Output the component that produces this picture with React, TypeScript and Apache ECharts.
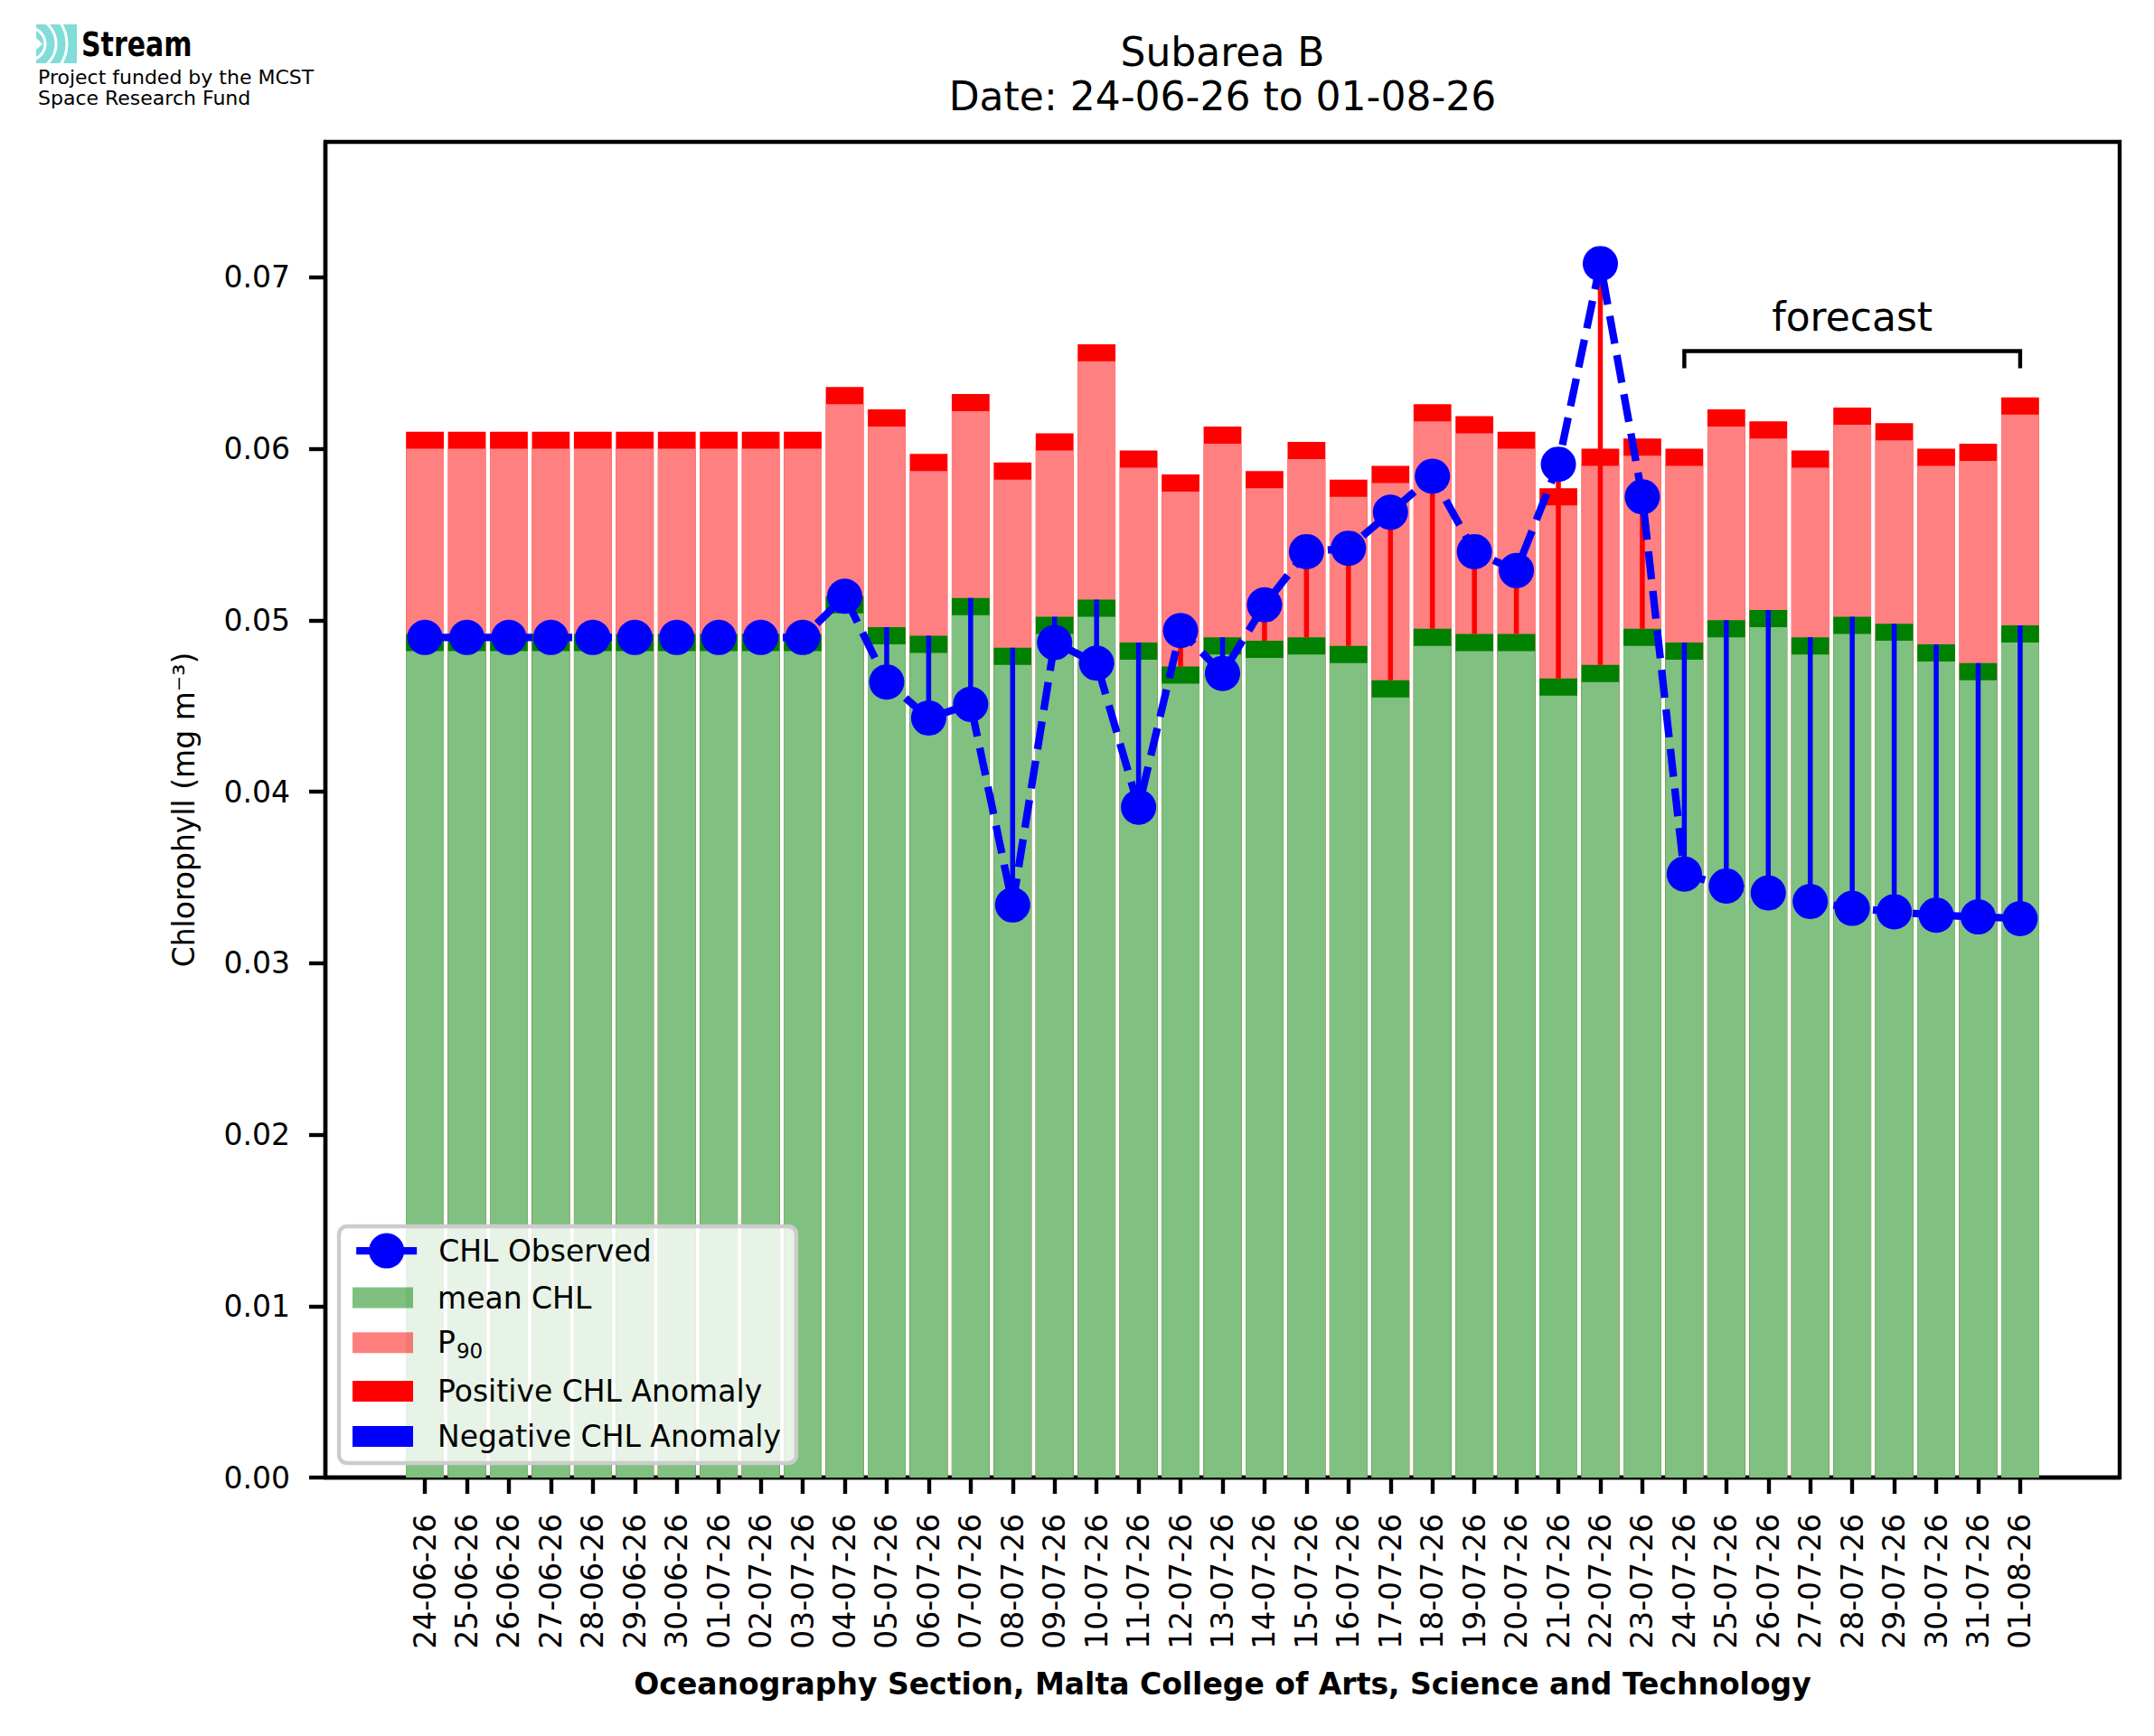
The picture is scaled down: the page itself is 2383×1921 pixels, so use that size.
import React, { useEffect, useRef } from 'react';
import * as echarts from 'echarts';

// ---------- data ----------
const dates = [
  '24-06-26', '25-06-26', '26-06-26', '27-06-26', '28-06-26', '29-06-26', '30-06-26',
  '01-07-26', '02-07-26', '03-07-26', '04-07-26', '05-07-26', '06-07-26', '07-07-26',
  '08-07-26', '09-07-26', '10-07-26', '11-07-26', '12-07-26', '13-07-26', '14-07-26',
  '15-07-26', '16-07-26', '17-07-26', '18-07-26', '19-07-26', '20-07-26', '21-07-26',
  '22-07-26', '23-07-26', '24-07-26', '25-07-26', '26-07-26', '27-07-26', '28-07-26',
  '29-07-26', '30-07-26', '31-07-26', '01-08-26',
];

const meanCHL = [
  0.0492, 0.0492, 0.0492, 0.0492, 0.0492, 0.0492, 0.0492, 0.0492, 0.0492, 0.0492,
  0.0514, 0.0496, 0.0491, 0.0513, 0.0484, 0.0502, 0.0512, 0.0487, 0.0473, 0.0490,
  0.0488, 0.0490, 0.0485, 0.0465, 0.0495, 0.0492, 0.0492, 0.0466, 0.0474, 0.0495,
  0.0487, 0.0500, 0.0506, 0.0490, 0.0502, 0.0498, 0.0486, 0.0475, 0.0497,
];

const p90CHL = [
  0.0610, 0.0610, 0.0610, 0.0610, 0.0610, 0.0610, 0.0610, 0.0610, 0.0610, 0.0610,
  0.0636, 0.0623, 0.0597, 0.0632, 0.0592, 0.0609, 0.0661, 0.0599, 0.0585, 0.0613,
  0.0587, 0.0604, 0.0582, 0.0590, 0.0626, 0.0619, 0.0610, 0.0577, 0.0600, 0.0606,
  0.0600, 0.0623, 0.0616, 0.0599, 0.0624, 0.0615, 0.0600, 0.0603, 0.0630,
];

const observedCHL = [
  0.0490, 0.0490, 0.0490, 0.0490, 0.0490, 0.0490, 0.0490, 0.0490, 0.0490, 0.0490,
  0.0514, 0.0464, 0.0443, 0.0451, 0.0334, 0.0487, 0.0475, 0.0391, 0.0494, 0.0469,
  0.0509, 0.0540, 0.0542, 0.0563, 0.0584, 0.0540, 0.0529, 0.0591, 0.0708, 0.0572,
  0.0352, 0.0345, 0.0341, 0.0336, 0.0332, 0.0330, 0.0328, 0.0327, 0.0326,
];

const yTicks = [0, 0.01, 0.02, 0.03, 0.04, 0.05, 0.06, 0.07];
const forecastStart = 30;
const forecastEnd = 38;
const forecastLevel = 0.0657;
const forecastTickDrop = 0.001;
const forecastTextLevel = 0.0677;
const BAND = 0.001; // thickness of the mean / P90 marker bands

// ---------- styles ----------
const FONT = 'DejaVu Sans';
const GREEN_LIGHT = '#80c080';
const GREEN_DARK = '#008000';
const RED_LIGHT = '#ff8080';
const RED = '#ff0000';
const BLUE = '#0000ff';
const TEAL = '#80ddd8';

const GRID = { left: 360, top: 157, width: 1985, height: 1478 };

function buildOption(): any {
  const idx = dates.map((_, i) => i);
  const pos: any[] = [];
  const neg: any[] = [];
  idx.forEach((i) => {
    if (observedCHL[i] > meanCHL[i]) pos.push([i, meanCHL[i], observedCHL[i]]);
    else if (observedCHL[i] < meanCHL[i]) neg.push([i, meanCHL[i], observedCHL[i]]);
  });

  const anomalyRender = (color: string) => (params: any, api: any) => {
    const x = api.value(0);
    const a = api.coord([x, api.value(1)]);
    const b = api.coord([x, api.value(2)]);
    return {
      type: 'line',
      shape: { x1: a[0], y1: a[1], x2: b[0], y2: b[1] },
      style: { stroke: color, lineWidth: 5.5 },
    };
  };

  const barCommon = { type: 'bar', barWidth: 41.8, barGap: '-100%', z: 2, silent: true };
  const legendText = { fontFamily: FONT, fontSize: 33, color: '#000', padding: [0, 0, 0, 22] };

  return {
    animation: false,
    textStyle: { fontFamily: FONT, color: '#000' },
    title: {
      text: 'Subarea B\nDate: 24-06-26 to 01-08-26',
      left: GRID.left + GRID.width / 2,
      textAlign: 'center',
      top: 33,
      padding: 0,
      textStyle: { fontFamily: FONT, fontSize: 44, fontWeight: 'normal', lineHeight: 49, color: '#000' },
    },
    grid: { ...GRID, show: true, borderColor: '#000', borderWidth: 4.4, backgroundColor: 'transparent' },
    xAxis: {
      type: 'value',
      min: -2.37,
      max: 40.37,
      name: 'Oceanography Section, Malta College of Arts, Science and Technology',
      nameLocation: 'middle',
      nameGap: 212,
      nameTextStyle: { fontFamily: FONT, fontSize: 33, fontWeight: 'bold', color: '#000' },
      axisLine: { show: true, onZero: false, lineStyle: { color: '#000', width: 4.4 } },
      splitLine: { show: false },
      axisTick: { show: true, length: 18, lineStyle: { color: '#000', width: 4.4 }, customValues: idx },
      axisLabel: {
        customValues: idx,
        rotate: 90,
        margin: 40,
        fontSize: 33,
        fontFamily: FONT,
        color: '#000',
        formatter: (v: number) => dates[Math.round(v)] ?? '',
      },
    },
    yAxis: {
      type: 'value',
      min: 0,
      max: 0.0779,
      name: 'Chlorophyll (mg m⁻³)',
      nameLocation: 'middle',
      nameGap: 140,
      nameTextStyle: { fontFamily: FONT, fontSize: 33, color: '#000' },
      axisLine: { show: true, onZero: false, lineStyle: { color: '#000', width: 4.4 } },
      splitLine: { show: false },
      axisTick: { show: true, length: 18, lineStyle: { color: '#000', width: 4.4 }, customValues: yTicks },
      axisLabel: {
        customValues: yTicks,
        margin: 39,
        fontSize: 33,
        fontFamily: FONT,
        color: '#000',
        formatter: (v: number) => v.toFixed(2),
      },
    },
    legend: [
      {
        data: [{ name: 'CHL Observed', lineStyle: { width: 8.3, type: 'solid', color: BLUE } }],
        orient: 'vertical',
        left: 390,
        top: 1389 - 24.4,
        padding: 0,
        itemWidth: 67,
        itemHeight: 48.75,
        selectedMode: false,
        z: 5,
        textStyle: { ...legendText, padding: [0, 0, 0, 19] },
      },
      {
        data: [
          { name: 'mean CHL', itemStyle: { color: 'rgba(0,128,0,0.5)' } },
          { name: 'P₉₀', itemStyle: { color: 'rgba(255,0,0,0.5)' } },
          { name: 'Positive CHL Anomaly' },
          { name: 'Negative CHL Anomaly' },
        ],
        orient: 'vertical',
        left: 390,
        top: 1436 - 16.5,
        padding: 0,
        itemWidth: 67,
        itemHeight: 23,
        itemGap: 16.8,
        icon: 'rect',
        selectedMode: false,
        z: 5,
        formatter: (name: string) => (name === 'P₉₀' ? '{p|P}{s|90}' : name),
        textStyle: {
          ...legendText,
          rich: {
            p: { fontFamily: FONT, fontSize: 33, lineHeight: 33, verticalAlign: 'top', color: '#000' },
            s: { fontFamily: FONT, fontSize: 23, lineHeight: 23, verticalAlign: 'top', padding: [14, 0, 0, 1], color: '#000' },
          },
        },
      },
    ],
    graphic: [
      {
        type: 'rect',
        z: 3,
        shape: { x: 375, y: 1357, width: 506, height: 262, r: 9 },
        style: { fill: 'rgba(255,255,255,0.8)', stroke: '#cccccc', lineWidth: 4.4 },
        silent: true,
      },
      // logo
      {
        type: 'group',
        z: 5,
        children: [
          { type: 'rect', shape: { x: 40, y: 27, width: 45, height: 43 }, style: { fill: TEAL } },
          { type: 'arc', shape: { cx: 32, cy: 48.5, r: 18, startAngle: -1.25, endAngle: 1.25 }, style: { stroke: '#fff', lineWidth: 3, fill: 'none' } },
          { type: 'arc', shape: { cx: 32, cy: 48.5, r: 30, startAngle: -1.0, endAngle: 1.0 }, style: { stroke: '#fff', lineWidth: 3, fill: 'none' } },
          { type: 'arc', shape: { cx: 32, cy: 48.5, r: 42, startAngle: -0.65, endAngle: 0.65 }, style: { stroke: '#fff', lineWidth: 3, fill: 'none' } },
          { type: 'polygon', shape: { points: [[40, 42], [47, 48.5], [40, 55]] }, style: { fill: '#fff' } },
          {
            type: 'text', x: 90, y: 49, scaleX: 0.81,
            style: { text: 'Stream', font: `bold 37px "${FONT}"`, fill: '#000', verticalAlign: 'middle', align: 'left' },
          },
          {
            type: 'text', x: 42, y: 85,
            style: { text: 'Project funded by the MCST', font: `22px "${FONT}"`, fill: '#000', verticalAlign: 'middle', align: 'left' },
          },
          {
            type: 'text', x: 42, y: 108,
            style: { text: 'Space Research Fund', font: `22px "${FONT}"`, fill: '#000', verticalAlign: 'middle', align: 'left' },
          },
        ],
      },
    ],
    series: [
      // drawn back to front; each bar starts at 0 and is overlapped by the next
      { ...barCommon, name: 'P90 band', itemStyle: { color: RED }, data: idx.map((i) => [i, p90CHL[i]]) },
      { ...barCommon, name: 'P₉₀', itemStyle: { color: RED_LIGHT }, data: idx.map((i) => [i, p90CHL[i] - BAND]) },
      { ...barCommon, name: 'mean band', itemStyle: { color: GREEN_DARK }, data: idx.map((i) => [i, meanCHL[i]]) },
      { ...barCommon, name: 'mean CHL', itemStyle: { color: GREEN_LIGHT }, data: idx.map((i) => [i, meanCHL[i] - BAND]) },
      {
        type: 'custom',
        name: 'Positive CHL Anomaly',
        z: 3,
        silent: true,
        itemStyle: { color: RED },
        encode: { x: 0, y: [1, 2] },
        data: pos,
        renderItem: anomalyRender(RED),
      },
      {
        type: 'custom',
        name: 'Negative CHL Anomaly',
        z: 3,
        silent: true,
        itemStyle: { color: BLUE },
        encode: { x: 0, y: [1, 2] },
        data: neg,
        renderItem: anomalyRender(BLUE),
      },
      {
        type: 'line',
        name: 'CHL Observed',
        z: 4,
        silent: true,
        data: idx.map((i) => [i, observedCHL[i]]),
        lineStyle: { color: BLUE, width: 8.3, type: [31, 13] },
        itemStyle: { color: BLUE },
        symbol: 'circle',
        symbolSize: 39,
        showAllSymbol: true,
      },
      {
        type: 'custom',
        name: 'forecast',
        z: 4,
        silent: true,
        clip: false,
        encode: { x: [0, 1], y: 2 },
        data: [[forecastStart, forecastEnd, forecastLevel]],
        renderItem: (params: any, api: any) => {
          const x0 = api.value(0);
          const x1 = api.value(1);
          const lvl = api.value(2);
          const p1 = api.coord([x0, lvl - forecastTickDrop]);
          const p2 = api.coord([x0, lvl]);
          const p3 = api.coord([x1, lvl]);
          const p4 = api.coord([x1, lvl - forecastTickDrop]);
          const t = api.coord([(x0 + x1) / 2, forecastTextLevel]);
          return {
            type: 'group',
            children: [
              {
                type: 'polyline',
                shape: { points: [p1, p2, p3, p4] },
                style: { stroke: '#000', lineWidth: 4.4, fill: 'none' },
              },
              {
                type: 'text',
                x: t[0],
                y: t[1],
                style: { text: 'forecast', font: `44px "${FONT}"`, fill: '#000', align: 'center', verticalAlign: 'middle' },
              },
            ],
          };
        },
      },
    ],
  };
}

export default function App() {
  const ref = useRef<HTMLDivElement>(null);
  useEffect(() => {
    if (!ref.current) return;
    const chart = echarts.init(ref.current, undefined, { renderer: 'svg' });
    chart.setOption(buildOption());
    return () => chart.dispose();
  }, []);
  return (
    <div
      ref={ref}
      style={{ position: 'absolute', left: 0, top: 0, width: 2383, height: 1921, background: '#fff' }}
    />
  );
}
